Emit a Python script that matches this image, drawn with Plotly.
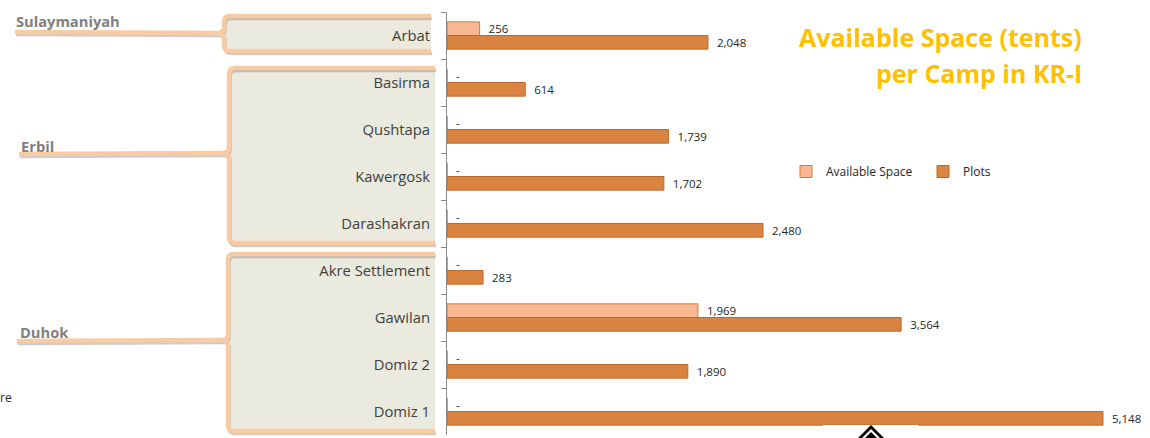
import plotly.graph_objects as go

camps = ["Arbat", "Basirma", "Qushtapa", "Kawergosk", "Darashakran",
         "Akre Settlement", "Gawilan", "Domiz 2", "Domiz 1"]
available = [256, 0, 0, 0, 0, 0, 1969, 0, 0]
plots = [2048, 614, 1739, 1702, 2480, 283, 3564, 1890, 5148]
governorates = ["Sulaymaniyah", "Erbil", "Duhok"]

W, H = 1150, 438
L, R, T, B = 447, 15, 12, 3
PW, PH = W - L - R, H - T - B
FONT = "Open Sans"


def px(x):
    return (x - L) / PW


def py(y):
    return (H - B - y) / PH


def lab(v):
    return "  -" if v == 0 else "  " + f"{v:,}"


fig = go.Figure()
fig.add_trace(go.Bar(
    name="Available Space", y=camps, x=available, orientation="h",
    marker=dict(color="#F9B891", line=dict(color="#D27A3A", width=1)),
    text=[lab(v) for v in available], textposition="outside", constraintext="none",
    textfont=dict(size=11.5, color="#262626", family=FONT), cliponaxis=False,
))
fig.add_trace(go.Bar(
    name="Plots", y=camps, x=plots, orientation="h",
    marker=dict(color="#DA8442", line=dict(color="#B9692E", width=1)),
    text=[lab(v) for v in plots], textposition="outside", constraintext="none",
    textfont=dict(size=11.5, color="#262626", family=FONT), cliponaxis=False,
))


def path(points):
    s = []
    for cmd, pts in points:
        if cmd == "L":
            for a, b in pts:
                s.append(f"L{px(a):.5f},{py(b):.5f}")
        elif cmd == "Z":
            s.append("Z")
        else:
            s.append(cmd + " ".join(f"{px(a):.5f},{py(b):.5f}" for a, b in pts))
    return " ".join(s)


def bracket(left, top, bottom, right, notch, lx, ly):
    r = 6
    border = [
        ("M", [(right, top)]), ("L", [(left + r, top)]),
        ("Q", [(left, top), (left, top + r)]),
        ("L", [(left, notch - 5)]),
        ("Q", [(left, notch), (left - 7, notch)]),
        ("L", [(lx, ly)]),
        ("M", [(left - 7, notch)]),
        ("Q", [(left, notch), (left, notch + 5)]),
        ("L", [(left, bottom - r)]),
        ("Q", [(left, bottom), (left + r, bottom)]),
        ("L", [(right, bottom)]),
    ]
    shp = []
    shp.append(dict(type="rect", xref="paper", yref="paper",
                    x0=px(left), x1=px(right), y0=py(bottom), y1=py(top),
                    fillcolor="#EBEADF", line=dict(width=0), layer="below"))
    shadow = [(c, [(a + 1, b + 2.5) for a, b in p]) for c, p in border]
    shp.append(dict(type="path", xref="paper", yref="paper", path=path(shadow),
                    line=dict(color="rgba(110,110,110,0.35)", width=3.5), layer="below"))
    shp.append(dict(type="path", xref="paper", yref="paper", path=path(border),
                    line=dict(color="#F9CBA2", width=4.5), layer="below"))
    return shp


shapes = []
shapes += bracket(224, 16, 51, 431, 33, 15, 32)
shapes += bracket(229, 68, 243, 435, 153, 19, 154)
shapes += bracket(228, 254, 431, 435, 340, 17, 341)

# overlay artefacts at bottom
shapes.append(dict(type="rect", xref="paper", yref="paper", x0=px(823), x1=px(918), y0=py(438), y1=py(425),
                   fillcolor="white", line=dict(width=0), layer="above"))
for pts, col in [([(857, 439), (871, 425), (885, 439)], "black"),
                 ([(861, 439), (871, 429), (881, 439)], "white"),
                 ([(864, 439), (871, 432), (878, 439)], "black")]:
    shapes.append(dict(type="path", xref="paper", yref="paper",
                       path=path([("M", [pts[0]]), ("L", pts[1:]), ("Z", [])]),
                       fillcolor=col, line=dict(width=0), layer="above"))

annotations = [
    dict(text="<b>Available Space (tents)</b>", x=px(1084), y=py(37),
         xref="paper", yref="paper", xanchor="right", yanchor="middle",
         showarrow=False, font=dict(family=FONT, size=25, color="#FFC000")),
    dict(text="<b>per Camp in KR-I</b>", x=px(1084), y=py(73),
         xref="paper", yref="paper", xanchor="right", yanchor="middle",
         showarrow=False, font=dict(family=FONT, size=25, color="#FFC000")),
    dict(text="<b>Sulaymaniyah</b>", x=px(14), y=py(21), xref="paper", yref="paper",
         xanchor="left", yanchor="middle", showarrow=False,
         font=dict(family=FONT, size=14.7, color="#7F7F7F")),
    dict(text="<b>Erbil</b>", x=px(19), y=py(146), xref="paper", yref="paper",
         xanchor="left", yanchor="middle", showarrow=False,
         font=dict(family=FONT, size=14.7, color="#7F7F7F")),
    dict(text="<b>Duhok</b>", x=px(18), y=py(332), xref="paper", yref="paper",
         xanchor="left", yanchor="middle", showarrow=False,
         font=dict(family=FONT, size=14.7, color="#7F7F7F")),
    dict(text="re", x=px(-2), y=py(397), xref="paper", yref="paper",
         xanchor="left", yanchor="middle", showarrow=False,
         font=dict(family=FONT, size=12, color="#262626")),
]

fig.update_layout(
    width=W, height=H, margin=dict(l=L, r=R, t=T, b=B),
    paper_bgcolor="white", plot_bgcolor="white",
    barmode="group", bargap=0.42, bargroupgap=0,
    showlegend=True,
    legend=dict(orientation="h", x=px(786), y=py(157), xanchor="left", yanchor="top",
                font=dict(family=FONT, size=12, color="#262626"),
                entrywidth=92, itemwidth=30, bgcolor="rgba(0,0,0,0)"),
    shapes=shapes, annotations=annotations,
    font=dict(family=FONT),
)
fig.update_xaxes(visible=False, range=[0, 5148 * PW / 656], showgrid=False)
fig.update_yaxes(autorange="reversed", showline=True, linecolor="#888888", linewidth=1,
                 ticks="outside", tickson="boundaries", ticklen=5, tickcolor="#888888",
                 showgrid=False, ticklabelstandoff=13,
                 tickfont=dict(family=FONT, size=14.8, color="#404040"))

fig.write_html("out.html", config={"displayModeBar": False},
               post_script="document.body.style.margin='0';")
